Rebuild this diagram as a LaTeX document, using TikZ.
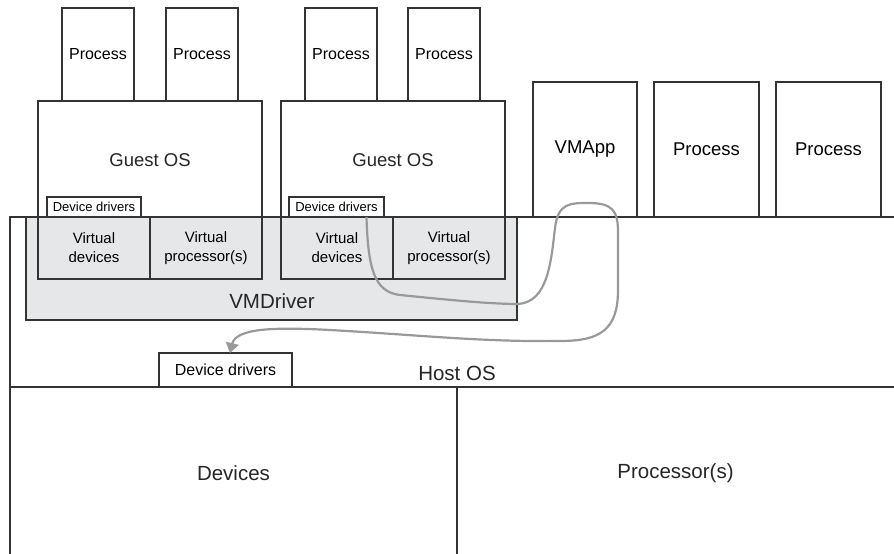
\documentclass[tikz,border=0pt]{standalone}
\usepackage{fontspec}
\setmainfont{Liberation Sans}
\usetikzlibrary{arrows.meta,calc}
\definecolor{linec}{HTML}{333333}
\definecolor{grayfill}{HTML}{E6E7E8}
\definecolor{curvec}{HTML}{999999}
\begin{document}
\begin{tikzpicture}[x=1pt,y=-1pt,
  line/.style={draw=linec, line width=1.2pt},
  box/.style={line, fill=white, rectangle, inner sep=0pt, outer sep=0pt, anchor=north west, align=center},
  gbox/.style={box, fill=grayfill},
  lbl/.style={inner sep=0pt, text=black!85},
  f13/.style={font=\fontsize{13}{15}\selectfont},
  f15/.style={font=\fontsize{15}{19}\selectfont},
  f16/.style={font=\fontsize{16}{19}\selectfont},
  f18/.style={font=\fontsize{18.5}{22}\selectfont},
  f20/.style={font=\fontsize{20.5}{24}\selectfont},
  flow/.style={draw=curvec, line width=2.2pt, -{Triangle[length=10pt,width=13pt]}}]
\useasboundingbox (0,0) rectangle (894,554);

% Host OS frame
\draw[line] (10,554) -- (10,217) -- (894,217);
\draw[line] (10,387) -- (894,387);
\draw[line] (457,387) -- (457,554);

% VMDriver
\node[gbox, minimum width=491pt, minimum height=103pt] (vmd) at (26,217) {};
\node[lbl, f20] (vmdl) at (272,301) {VMDriver};

% Guest OS boxes
\node[box, minimum width=224pt, minimum height=116pt] (g1) at (38,101) {};
\node[lbl, f18] (g1l) at (150,160) {Guest OS};
\node[box, minimum width=224pt, minimum height=116pt] (g2) at (281,101) {};
\node[lbl, f18] (g2l) at (393,160) {Guest OS};

% Guest processes
\node[box, f16, minimum width=72pt, minimum height=93pt] (p1) at (62,8) {Process};
\node[box, f16, minimum width=72pt, minimum height=93pt] (p2) at (166,8) {Process};
\node[box, f16, minimum width=72pt, minimum height=93pt] (p3) at (305,8) {Process};
\node[box, f16, minimum width=72pt, minimum height=93pt] (p4) at (408,8) {Process};

% Host processes
\node[box, f18, minimum width=104pt, minimum height=135pt] (vmapp) at (533,82) {VMApp};
\node[box, f18, minimum width=105pt, minimum height=135pt] (p5) at (654,82) {Process};
\node[box, f18, minimum width=105pt, minimum height=135pt] (p6) at (776,82) {Process};

% Virtual devices / processors
\node[gbox, f15, minimum width=112pt, minimum height=62pt] (vd1) at (38,217) {Virtual\\devices};
\node[gbox, f15, minimum width=112pt, minimum height=62pt] (vp1) at (150,217) {Virtual\\processor(s)};
\node[gbox, f15, minimum width=112pt, minimum height=62pt] (vd2) at (281,217) {Virtual\\devices};
\node[gbox, f15, minimum width=112pt, minimum height=62pt] (vp2) at (393,217) {Virtual\\processor(s)};

% Guest device drivers
\node[box, f13, minimum width=94pt, minimum height=20pt] (dd1) at (47,197) {Device drivers};
\node[box, f13, minimum width=95pt, minimum height=20pt] (dd2) at (289,197) {Device drivers};

% Host device drivers and labels
\node[box, f16, minimum width=133pt, minimum height=34pt] (hdd) at (159,353) {Device drivers};
\node[lbl, f20] (host) at (457,373) {Host OS};
\node[lbl, f20] (dev) at (233.5,473) {Devices};
\node[lbl, f20] (proc) at (675.5,473) {Processor(s)};

% Flow curve
\draw[flow] ([xshift=30pt]dd2.south)
  .. controls (368,268) and (374,292) .. (400,295)
  .. controls (450,300) and (490,304) .. (518,304)
  .. controls (548,302) and (551,262) .. (555,228)
  .. controls (558,203) and (570,203) .. (588,203)
  .. controls (612,203) and (618,210) .. (618,232)
  -- (618,290)
  .. controls (618,330) and (600,341) .. (560,341)
  .. controls (480,342) and (420,335) .. (330,330)
  .. controls (275,327) and (236,328) .. ([xshift=4.5pt]hdd.north);
\end{tikzpicture}
\end{document}
